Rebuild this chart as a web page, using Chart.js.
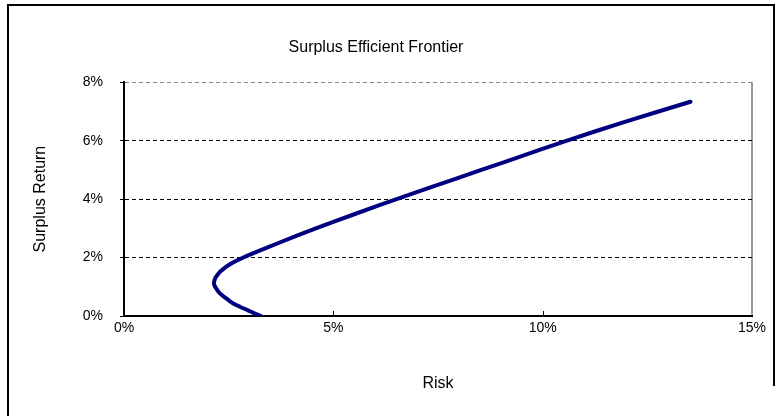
<!DOCTYPE html>
<html>
<head>
<meta charset="utf-8">
<script src="https://cdn.jsdelivr.net/npm/chart.js@4.4.1/dist/chart.umd.min.js"></script>
<style>
  html,body{ margin:0; padding:0; background:#fff; }
  #wrap{ width:782px; height:416px; position:relative; }
</style>
</head>
<body>
<div id="wrap"><canvas id="chart" width="782" height="416"></canvas></div>
<script>
// values, in percent
const risk = [3.27, 3.10, 2.95, 2.78, 2.62, 2.48, 2.35, 2.26, 2.20, 2.16, 2.15, 2.16, 2.19, 2.30, 2.52, 2.85, 3.40, 4.10, 5.00, 6.10, 7.30, 8.50, 9.60, 10.60, 12.00, 13.53];
const surplusReturn = [0.00, 0.10, 0.20, 0.31, 0.42, 0.56, 0.70, 0.82, 0.95, 1.04, 1.13, 1.22, 1.32, 1.52, 1.76, 2.00, 2.33, 2.73, 3.22, 3.79, 4.39, 4.98, 5.52, 6.01, 6.66, 7.33];
const xTicks = [0, 5, 10, 15];
const yTicks = [0, 2, 4, 6, 8];

const FONT = "'Liberation Sans', Arial, sans-serif";
const points = risk.map((r, i) => ({ x: r, y: surplusReturn[i] }));

// outer frame + inward tick marks on the risk axis
const frame = {
  id: "frame",
  afterDraw(chart){
    const c = chart.ctx;
    const xs = chart.scales.x;
    c.save();
    c.strokeStyle = "#000";
    c.lineWidth = 1;
    c.beginPath();
    for(const t of xTicks.slice(1, -1)){
      const px = Math.round(xs.getPixelForValue(t)) + 0.5;
      c.moveTo(px, chart.chartArea.bottom);
      c.lineTo(px, chart.chartArea.bottom - 5);
    }
    c.stroke();
    c.lineWidth = 2;
    c.beginPath();
    c.moveTo(8, 416);
    c.lineTo(8, 5);
    c.lineTo(774, 5);
    c.lineTo(774, 386);
    c.stroke();
    c.restore();
  }
};

new Chart(document.getElementById("chart"), {
  type: "scatter",
  data: {
    datasets: [{
      data: points,
      showLine: true,
      borderColor: "#000080",
      borderWidth: 4,
      borderCapStyle: "round",
      borderJoinStyle: "round",
      tension: 0.3,
      pointRadius: 0,
      fill: false
    }]
  },
  options: {
    responsive: false,
    animation: false,
    layout: { padding: { left: 0, right: 30, top: 0, bottom: 0 } },
    plugins: {
      legend: { display: false },
      tooltip: { enabled: false },
      title: {
        display: true,
        text: "Surplus Efficient Frontier",
        color: "#000",
        font: { family: FONT, size: 16, weight: "normal" },
        padding: { top: 38, bottom: 25 }
      }
    },
    scales: {
      x: {
        type: "linear",
        min: 0, max: 15,
        afterBuildTicks: (s) => { s.ticks = xTicks.map(v => ({ value: v })); },
        afterFit: (s) => { s.height = 100; },
        ticks: {
          color: "#000",
          padding: 4,
          font: { family: FONT, size: 14 },
          callback: (v) => v + "%"
        },
        grid: {
          drawTicks: false,
          color: (ctx) => ctx.tick && ctx.tick.value === 15 ? "#999" : "rgba(0,0,0,0)",
          lineWidth: 2
        },
        border: { display: true, color: "#000", width: 2 },
        title: {
          display: true,
          text: "Risk",
          color: "#000",
          font: { family: FONT, size: 16 },
          padding: { top: 0, bottom: 23 }
        }
      },
      y: {
        type: "linear",
        min: 0, max: 8,
        afterBuildTicks: (s) => { s.ticks = yTicks.map(v => ({ value: v })); },
        afterFit: (s) => { s.width = 124; },
        ticks: {
          color: "#000",
          padding: 17,
          font: { family: FONT, size: 14 },
          callback: (v) => v + "%"
        },
        grid: {
          tickLength: 4,
          tickColor: "#000",
          tickBorderDash: [],
          color: (ctx) => {
            const v = ctx.tick ? ctx.tick.value : null;
            if(v === 0) return "rgba(0,0,0,0)";
            if(v === 8) return "#888";
            return "#000";
          },
          lineWidth: 1
        },
        border: { display: true, color: "#000", width: 2, dash: [4, 3] },
        title: {
          display: true,
          text: "Surplus Return",
          color: "#000",
          font: { family: FONT, size: 16 },
          padding: { top: 31, bottom: 0 }
        }
      }
    }
  },
  plugins: [frame]
});
</script>
</body>
</html>
